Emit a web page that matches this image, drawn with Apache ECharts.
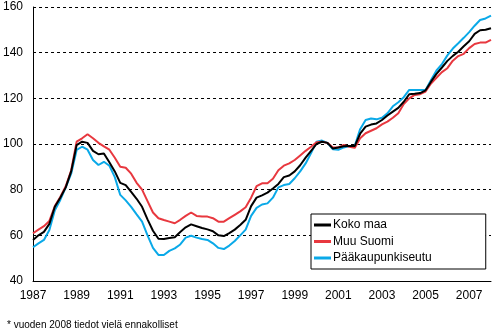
<!DOCTYPE html>
<html>
<head>
<meta charset="utf-8">
<script src="https://cdn.jsdelivr.net/npm/echarts@6/dist/echarts.min.js"></script>
<style>html,body{margin:0;padding:0;background:#fff}#c{width:499px;height:334px}</style>
</head>
<body>
<div id="c"></div>
<script>
// Quarterly categories 1987Q1 .. 2008Q1
var startYear = 1987, endYear = 2008;
var categories = [];
for (var y = startYear; y <= endYear; y++) {
  for (var q = 1; q <= 4; q++) {
    if (y === endYear && q > 1) break;
    categories.push(y + 'Q' + q);
  }
}
var seriesNames = ['Koko maa', 'Muu Suomi', 'Pääkaupunkiseutu'];
var kokoMaa = [58,60,61.5,65,72.5,76.5,81,88,99.5,101,100.5,97,95.5,95.8,92,88,83,82,79,76,72.5,67,62,58.5,
  58.4,58.8,59.2,61.5,63.5,64.8,64,63.2,62.6,61.8,60,59.7,61,62.5,64.5,66.8,72.8,76.5,77.5,78.7,80.5,82.5,85.5,86.2,
  88,90.7,94,97,100,101,100.5,98,98.5,99,99.1,99.1,104.5,107.6,108.5,109,110.5,112.5,114.2,115.8,118.5,121.8,122,122.3,
  123.5,127.3,130.7,133.5,136.4,138.6,140.4,142.8,145,148.2,149.8,150,150.7];
var muuSuomi = [60.9,62.5,64,66.3,72.8,76.8,81.5,88.5,101,102.5,104.3,102.5,100.5,99,97.5,94,90,89.6,87,83,80,75,70,67.5,
  66.7,66,65.3,66.8,68.5,70,68.5,68.2,68.2,67.5,66,66,67.5,69,70.5,72.3,76.5,81.5,82.8,82.8,84.8,88.5,90.5,91.5,
  93,95,97,98.8,100.8,101,100.5,98.5,98.5,99.6,98.8,98.3,102.5,104.7,105.8,106.9,108.6,109.8,111.5,113.5,117.5,120,121.5,121.8,
  123,126.5,129,131.5,133.2,136.5,138.5,139.5,142,143.8,144.4,144.4,145.6];
var paakaupunkiseutu = [54.8,56.5,58,62.3,71,75.5,81,87,97.4,98.8,97.5,93,90.8,92.2,90.5,85.5,77.7,75.3,72.5,69.2,66,60,54.5,51.4,
  51.4,53.2,54.3,56,59,59.8,59,58.4,58,56.5,54.5,54,55.5,57.5,60,62.5,68.5,72,73.5,74,76.5,81,82,82.5,
  85,88,91.5,96,101,101.5,100.5,97.7,97.5,98.5,99.1,99.1,106.5,110.5,111.2,110.8,111.5,113.4,116.5,118.3,120.5,123.7,123.7,123.7,
  123.7,128,132.2,135,138.8,141.8,144.1,146.5,149,151.8,154.3,155,156.2];
var yTicks = [40, 60, 80, 100, 120, 140, 160];
var footnote = '* vuoden 2008 tiedot vielä ennakolliset';
var colors = ['#000000', '#e8383f', '#0aa9e8'];
var font = '"Liberation Sans", Arial, sans-serif';

var chart = echarts.init(document.getElementById('c'), null, {renderer: 'canvas'});
chart.setOption({
  animation: false,
  grid: {left: 32, right: 8, top: 7, bottom: 53, containLabel: false},
  xAxis: {
    type: 'category', data: categories, boundaryGap: false,
    axisLine: {lineStyle: {color: '#000', width: 1}},
    axisTick: {show: false},
    axisLabel: {
      color: '#000', fontFamily: font, fontSize: 12, margin: 9,
      interval: function (i, v) { var yr = parseInt(v, 10); return /Q1$/.test(v) && (yr % 2 === 1); },
      formatter: function (v) { return v.slice(0, 4); }
    },
    splitLine: {show: false}
  },
  yAxis: {
    type: 'value', min: yTicks[0], max: yTicks[yTicks.length - 1], interval: 20,
    axisLine: {show: true, lineStyle: {color: '#000', width: 1}},
    axisTick: {show: false},
    axisLabel: {color: '#000', fontFamily: font, fontSize: 12, margin: 10},
    splitLine: {show: true, lineStyle: {color: '#000', type: [3, 3], width: 1}}
  },
  legend: {
    orient: 'vertical', left: 311, top: 214,
    data: seriesNames,
    backgroundColor: '#fff', borderColor: '#000', borderWidth: 1, borderRadius: 0,
    padding: [5, 54, 5, 3], itemGap: 4.5, itemWidth: 17, itemHeight: 3, icon: 'rect',
    textStyle: {color: '#000', fontFamily: font, fontSize: 12, padding: [0, 0, 0, -3]}
  },
  series: [
    {name: seriesNames[2], type: 'line', data: paakaupunkiseutu, showSymbol: false, z: 2,
     lineStyle: {color: colors[2], width: 2}, itemStyle: {color: colors[2]}},
    {name: seriesNames[1], type: 'line', data: muuSuomi, showSymbol: false, z: 3,
     lineStyle: {color: colors[1], width: 2}, itemStyle: {color: colors[1]}},
    {name: seriesNames[0], type: 'line', data: kokoMaa, showSymbol: false, z: 4,
     lineStyle: {color: colors[0], width: 2}, itemStyle: {color: colors[0]}}
  ],
  graphic: [{
    type: 'text', left: 7, top: 320,
    style: {text: footnote, fill: '#000', font: '10px ' + font}
  }]
});
</script>
</body>
</html>
